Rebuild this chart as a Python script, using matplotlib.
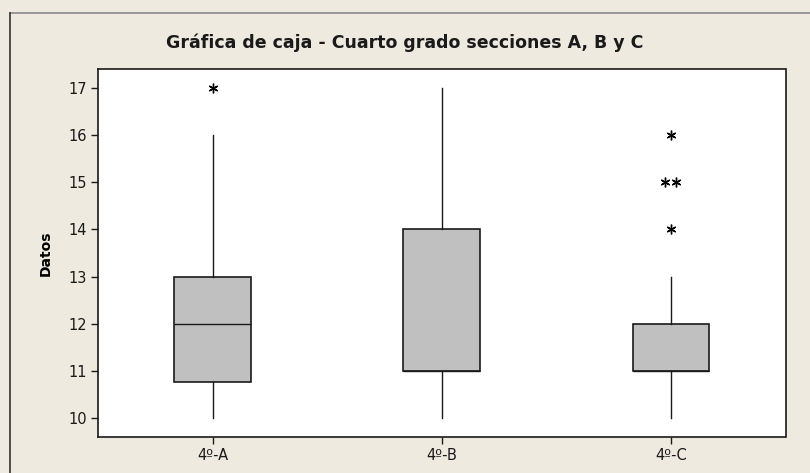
import numpy as np
import matplotlib
matplotlib.use('Agg')
import matplotlib.pyplot as plt
from matplotlib.lines import Line2D

# Box plot summary
grupos = ["4º-A", "4º-B", "4º-C"]
bigote_inf = [10, 10, 10]
q1 = [10.75, 11, 11]
mediana = [12, 11, 11]
q3 = [13, 14, 12]
bigote_sup = [16, 17, 13]
atipicos = [[17], [], [16, 15, 15, 14]]

bg = '#EEEAE0'
fig = plt.figure(figsize=(8.1, 4.73), dpi=100, facecolor=bg)
# outer frame (Minitab style): top and left edges only
x0, y0 = 9.5 / 810, 1 - 13 / 473
fig.lines.append(Line2D([x0, 1.0], [y0, y0], transform=fig.transFigure,
                        color='#8a8a8a', linewidth=1.2))
fig.lines.append(Line2D([x0, x0], [0, y0], transform=fig.transFigure,
                        color='#333333', linewidth=1.2))

ax = fig.add_axes([98 / 810, 1 - 437 / 473, (785.5 - 98) / 810, (437 - 69) / 473])
ax.set_facecolor('white')

stats = []
for i, g in enumerate(grupos):
    stats.append(dict(label=g, whislo=bigote_inf[i], q1=q1[i], med=mediana[i],
                      q3=q3[i], whishi=bigote_sup[i], fliers=[]))

pos = np.arange(1, len(grupos) + 1)
ax.bxp(stats, positions=pos, widths=0.335, patch_artist=True, showcaps=False,
       boxprops=dict(facecolor='#C0C0C0', edgecolor='#1a1a1a', linewidth=1.2),
       medianprops=dict(color='#1a1a1a', linewidth=1.0),
       whiskerprops=dict(color='#1a1a1a', linewidth=1.0))

# outliers as asterisks; repeated values side by side
for i, vals in enumerate(atipicos):
    vals = np.array(vals, dtype=float)
    for v in np.unique(vals):
        n = int(np.sum(vals == v))
        offs = (np.arange(n) - (n - 1) / 2) * 0.048
        ax.plot(pos[i] + offs, [v] * n, linestyle='none', marker=(6, 2, 0),
                markersize=7, color='black', markeredgewidth=1.0)

ax.set_xlim(0.5, 3.5)
ax.set_ylim(9.59, 17.41)
ax.set_yticks(range(10, 18))
ax.set_xticks(pos)
ax.set_xticklabels(grupos)
ax.tick_params(axis='both', labelsize=10.5, length=5, width=1, color='#1a1a1a',
               labelcolor='#1a1a1a', pad=3)
for s in ax.spines.values():
    s.set_linewidth(1.2)
    s.set_color('#1a1a1a')

ax.set_ylabel("Datos", fontsize=10, fontweight='bold', labelpad=11)
fig.text(0.5, 1 - 43 / 473, "Gráfica de caja - Cuarto grado secciones A, B y C",
         ha='center', va='center', fontsize=12.5, fontweight='bold', color='#1a1a1a')

fig.savefig("out.png", dpi=100, facecolor=bg)
